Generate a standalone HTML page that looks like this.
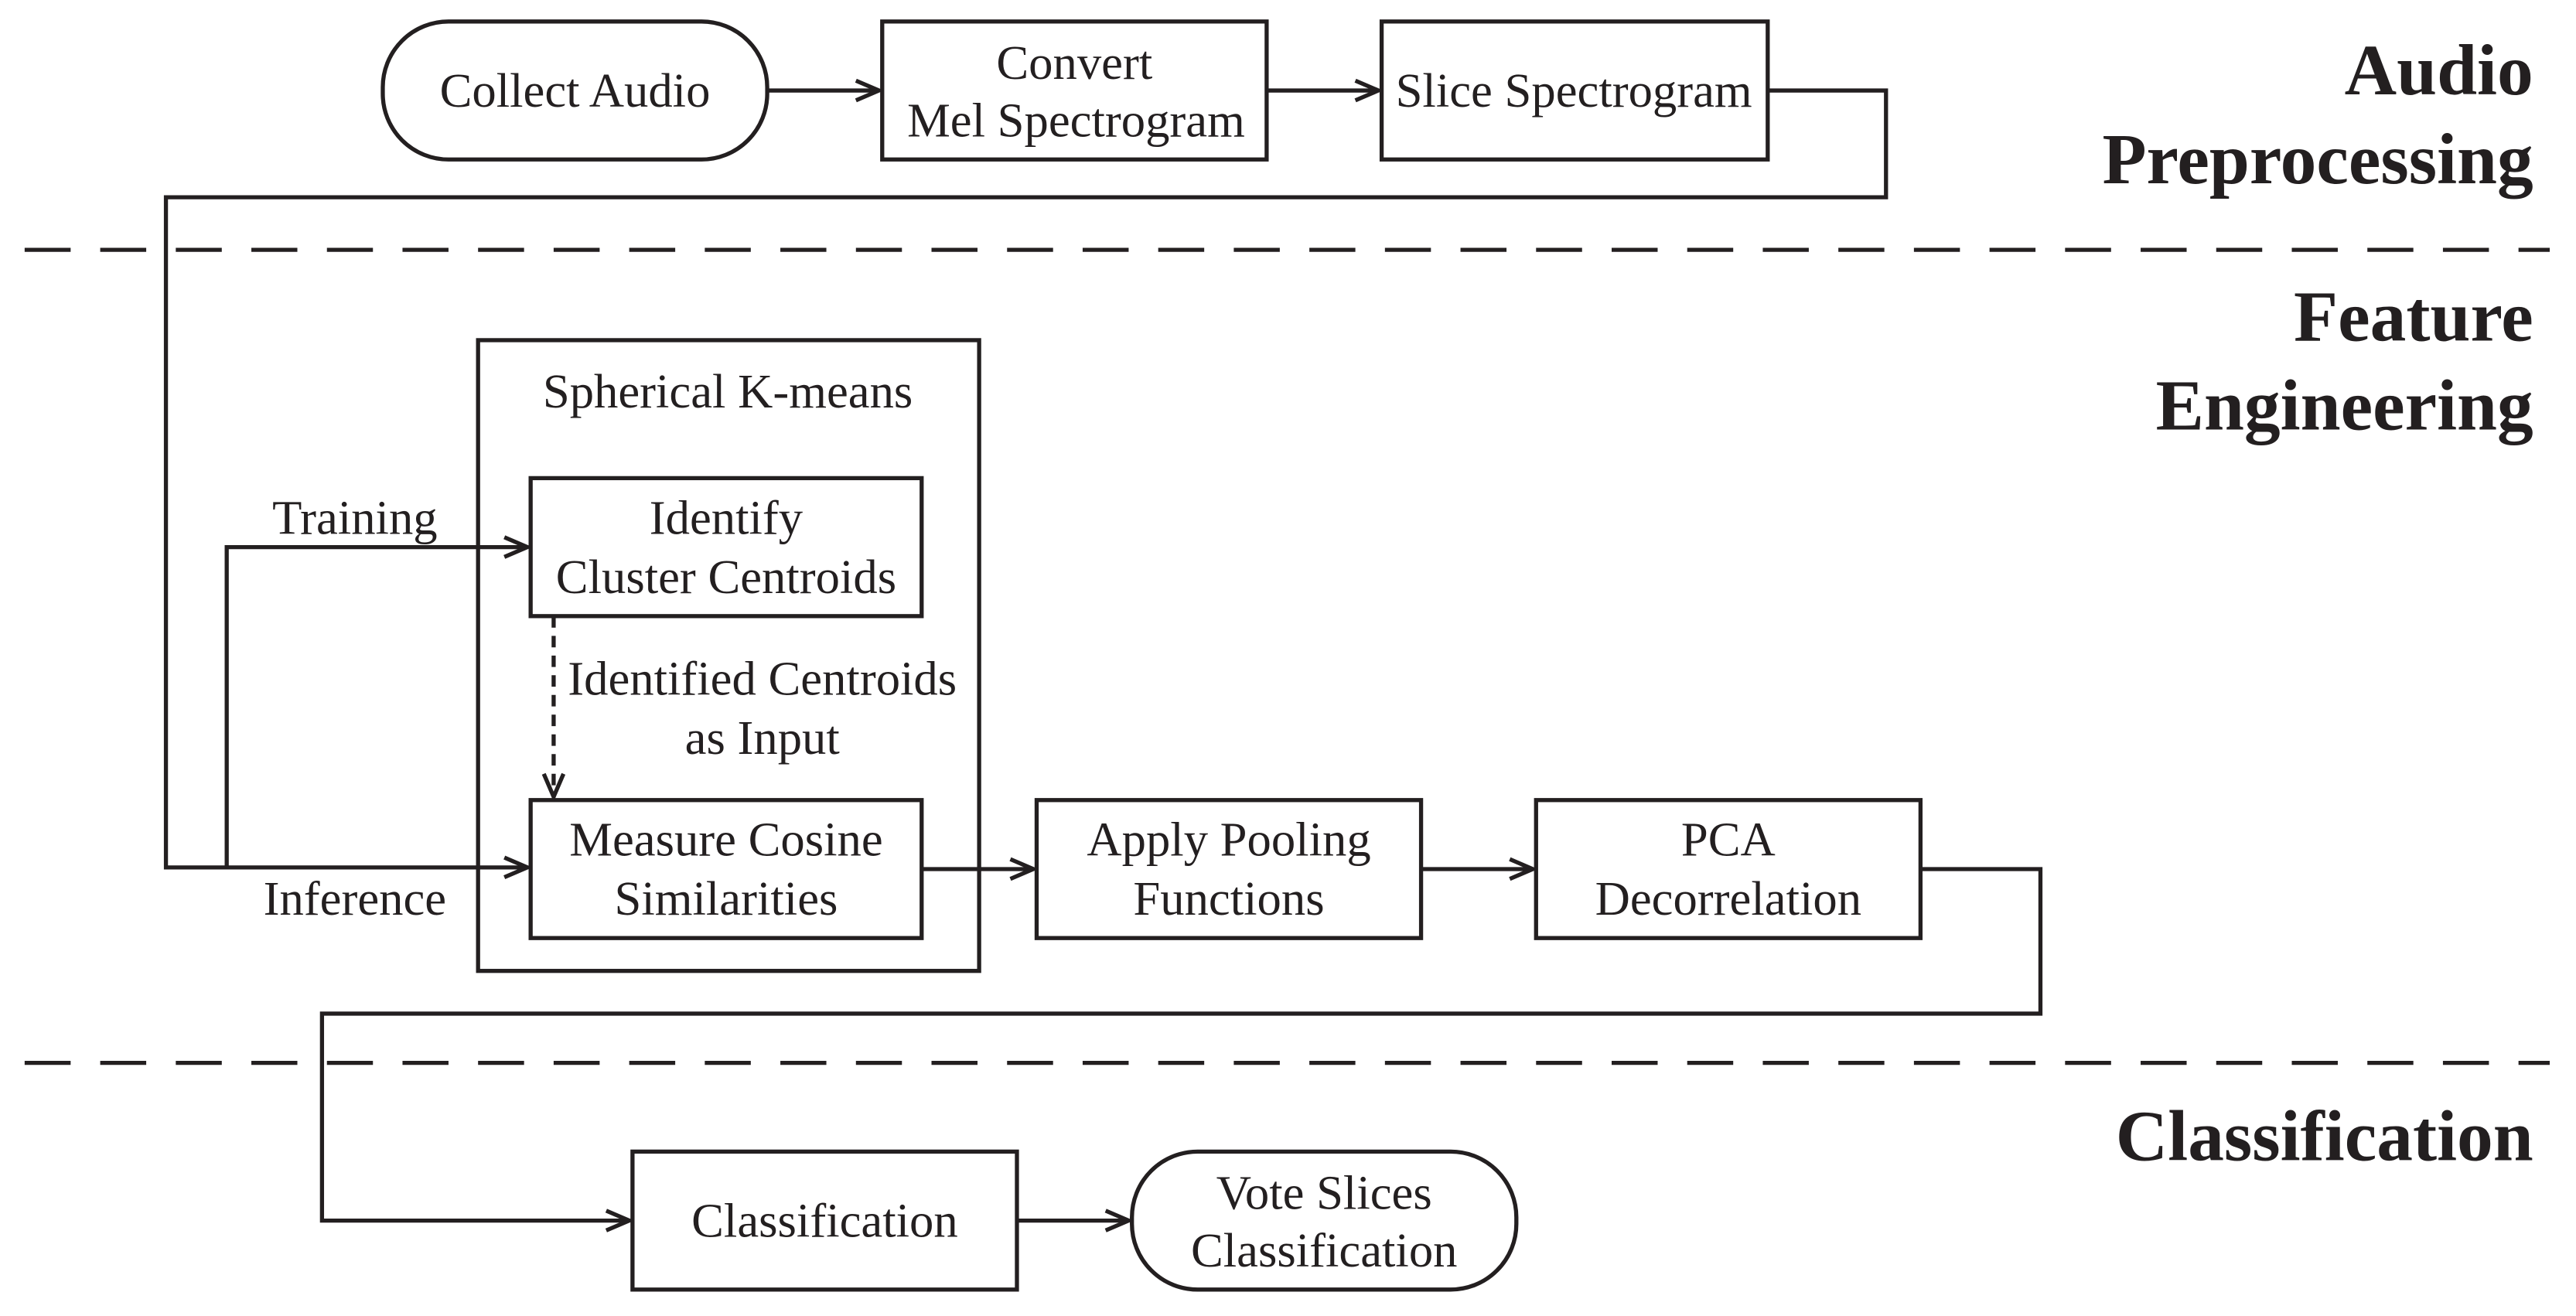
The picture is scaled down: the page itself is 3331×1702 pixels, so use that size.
<!DOCTYPE html>
<html><head><meta charset="utf-8"><style>
html,body{margin:0;padding:0;background:#fff;}
svg{display:block;}
text{font-family:"Liberation Serif",serif;fill:#231f20;}
</style></head><body>
<svg width="3331" height="1702" viewBox="0 0 1568 801" xmlns="http://www.w3.org/2000/svg">
<defs>
<marker id="a" markerWidth="20" markerHeight="20" refX="17" refY="10" orient="auto" markerUnits="userSpaceOnUse">
<polyline points="3,4 17,10 3,16" fill="none" stroke="#231f20" stroke-width="2.5"/>
</marker>
</defs>
<g fill="none" stroke="#231f20" stroke-width="2.5">
<rect x="233" y="13" width="234" height="84" rx="40"/>
<rect x="537" y="13" width="234" height="84"/>
<rect x="841" y="13" width="235" height="84"/>
<line x1="467" y1="55" x2="535" y2="55" marker-end="url(#a)"/>
<line x1="771" y1="55" x2="839" y2="55" marker-end="url(#a)"/>
<polyline points="1076,55 1148,55 1148,120 101,120 101,528 321,528" marker-end="url(#a)"/>
<polyline points="138,528 138,333 321,333" marker-end="url(#a)"/>
<line x1="15" y1="152" x2="1552" y2="152" stroke-dasharray="28,18"/>
<line x1="15" y1="647" x2="1552" y2="647" stroke-dasharray="28,18"/>
<rect x="291" y="207" width="305" height="384"/>
<rect x="323" y="291" width="238" height="84"/>
<rect x="323" y="487" width="238" height="84"/>
<line x1="337" y1="375" x2="337" y2="485" stroke-dasharray="7,5" marker-end="url(#a)"/>
<line x1="561" y1="529" x2="629" y2="529" marker-end="url(#a)"/>
<rect x="631" y="487" width="234" height="84"/>
<line x1="865" y1="529" x2="933" y2="529" marker-end="url(#a)"/>
<rect x="935" y="487" width="234" height="84"/>
<polyline points="1169,529 1242,529 1242,617 196,617 196,743 383,743" marker-end="url(#a)"/>
<rect x="385" y="701" width="234" height="84"/>
<line x1="619" y1="743" x2="687" y2="743" marker-end="url(#a)"/>
<rect x="689" y="701" width="234" height="84" rx="40"/>
</g>
<g font-size="29.5" text-anchor="middle" dominant-baseline="central">
<text x="350" y="55">Collect Audio</text>
<text x="654" y="38">Convert</text>
<text x="655" y="73">Mel Spectrogram</text>
<text x="958" y="55">Slice Spectrogram</text>
<text x="443" y="238">Spherical K-means</text>
<text x="442" y="315">Identify</text>
<text x="442" y="351">Cluster Centroids</text>
<text x="464" y="413">Identified Centroids</text>
<text x="464" y="449">as Input</text>
<text x="442" y="511">Measure Cosine</text>
<text x="442" y="547">Similarities</text>
<text x="216" y="315">Training</text>
<text x="216" y="547">Inference</text>
<text x="748" y="511">Apply Pooling</text>
<text x="748" y="547">Functions</text>
<text x="1052" y="511">PCA</text>
<text x="1052" y="547">Decorrelation</text>
<text x="502" y="743">Classification</text>
<text x="806" y="726">Vote Slices</text>
<text x="806" y="761">Classification</text>
</g>
<g font-size="44" font-weight="bold" text-anchor="end" dominant-baseline="central">
<text x="1542" y="43">Audio</text>
<text x="1542" y="97">Preprocessing</text>
<text x="1542" y="193">Feature</text>
<text x="1542" y="247">Engineering</text>
<text x="1542" y="692">Classification</text>
</g>
</svg>
</body></html>
